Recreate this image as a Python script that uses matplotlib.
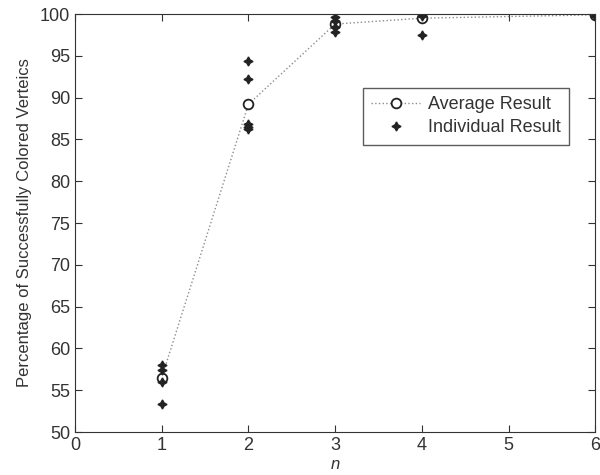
import numpy as np
import matplotlib
matplotlib.use('Agg')
import matplotlib.pyplot as plt

# Average result per n
n_avg = [1, 2, 3, 4, 6]
avg = [56.5, 89.2, 98.8, 99.5, 99.9]

# Individual runs
n_ind = [1, 1, 1, 1,
	2, 2, 2, 2, 2,
	3, 3, 3, 3,
	4, 4, 4,
	6, 6]
ind = [58.0, 57.4, 56.0, 53.3,
	94.4, 92.2, 86.9, 86.5, 86.2,
	99.7, 99.2, 98.4, 97.8,
	100.0, 99.8, 97.5,
	100.0, 99.8]

plt.rcParams['font.family'] = ['Liberation Sans', 'DejaVu Sans']

fig = plt.figure(figsize=(6, 4.75), dpi=100)
ax = fig.add_axes([0.125, 0.0905, 0.867, 0.88])

ax.plot(n_avg, avg, linestyle=':', color='0.55', linewidth=1,
	marker='o', markersize=7, markerfacecolor='white', markeredgecolor='#222222',
	markeredgewidth=1.3, label='Average Result')
ax.plot(n_ind, ind, linestyle='none', marker=(4, 1, 0), markersize=6.5,
	color='#222222', markeredgewidth=1.0, label='Individual Result')

ax.set_xlim(0, 6)
ax.set_ylim(50, 100)
ax.set_xticks(range(0, 7))
ax.set_yticks(range(50, 101, 5))
ax.tick_params(direction='in', top=True, right=True, labelsize=13, length=5,
	colors='#333333', labelcolor='#333333')
for s in ax.spines.values():
	s.set_color('#333333')

ax.set_xlabel('n', fontsize=12, style='italic', color='#333333', labelpad=2)
ax.set_ylabel('Percentage of Successfully Colored Verteics', fontsize=12,
	color='#333333', labelpad=6)

leg = ax.legend(loc='upper left', bbox_to_anchor=(0.554, 0.823), fancybox=False,
	edgecolor='#333333', fontsize=13, handlelength=2.7, borderpad=0.45,
	labelspacing=0.35, handletextpad=0.45, borderaxespad=0)
for t in leg.get_texts():
	t.set_color('#333333')

fig.savefig('out.png', dpi=100)
